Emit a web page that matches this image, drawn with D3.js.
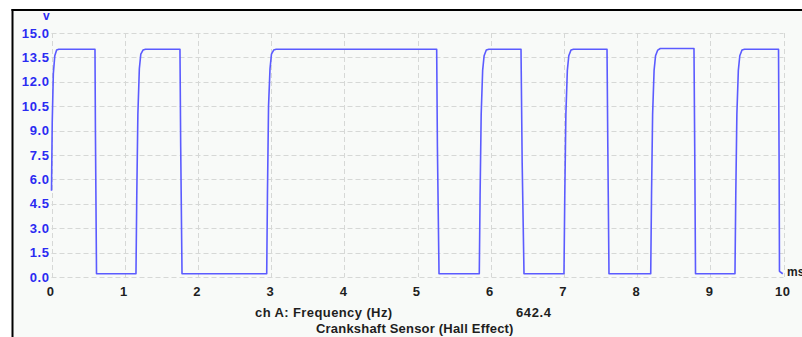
<!DOCTYPE html>
<html>
<head>
<meta charset="utf-8">
<script src="https://cdn.jsdelivr.net/npm/d3@7"></script>
<style>
  html, body { margin: 0; padding: 0; background: #ffffff; }
  svg { display: block; }
  text { font-family: "Liberation Sans", Arial, sans-serif; font-weight: bold; }
</style>
</head>
<body>
<svg id="chart" width="802" height="337"></svg>
<script>
// ---- data ----
const timeMs = [
  0.000, 0.010, 0.025, 0.045, 0.070, 0.100, 0.594, 0.600, 0.615,
  1.154, 1.165, 1.180, 1.200, 1.220, 1.250, 1.285, 1.755, 1.765, 1.783,
  2.940, 2.950, 2.965, 2.985, 3.005, 3.035, 3.070, 5.262, 5.272, 5.294,
  5.844, 5.855, 5.870, 5.890, 5.910, 5.940, 5.975, 6.414, 6.430, 6.455,
  7.001, 7.012, 7.027, 7.047, 7.067, 7.097, 7.132, 7.589, 7.600, 7.616,
  8.186, 8.197, 8.212, 8.232, 8.252, 8.282, 8.317, 8.777, 8.787, 8.798,
  9.337, 9.348, 9.363, 9.383, 9.403, 9.433, 9.468, 9.932, 9.940, 9.945, 9.990
];
const volts = [
  5.3, 9.5, 12.5, 13.6, 13.95, 14.0, 14.0, 9.0, 0.2,
  0.2, 5.0, 10.0, 12.8, 13.7, 13.95, 14.0, 14.0, 8.0, 0.2,
  0.2, 5.0, 10.5, 12.8, 13.7, 13.95, 14.0, 14.0, 8.0, 0.2,
  0.2, 5.0, 10.0, 12.7, 13.6, 13.95, 14.0, 14.0, 7.0, 0.2,
  0.2, 5.0, 10.0, 12.7, 13.6, 13.95, 14.0, 14.0, 8.0, 0.2,
  0.2, 5.0, 10.0, 12.7, 13.6, 13.95, 14.05, 14.05, 8.0, 0.2,
  0.2, 5.0, 10.0, 12.7, 13.6, 13.95, 14.0, 14.0, 7.0, 0.35, 0.2
];
const xTicks = [0, 1, 2, 3, 4, 5, 6, 7, 8, 9, 10];
const yTicks = [0, 1.5, 3.0, 4.5, 6.0, 7.5, 9.0, 10.5, 12.0, 13.5, 15.0];
const yUnit = "v";
const xUnit = "ms";
const channelLabel = "ch A: Frequency (Hz)";
const channelValue = "642.4";
const title = "Crankshaft Sensor (Hall Effect)";

// ---- drawing ----
const svg = d3.select("#chart");

// frame (panel background with black top/left edges)
svg.append("rect").attr("x", 12.5).attr("y", 10).attr("width", 802).attr("height", 340)
  .attr("fill", "#f8faf8");
svg.append("line").attr("x1", 12.5).attr("x2", 12.5).attr("y1", 9).attr("y2", 337)
  .attr("stroke", "#000").attr("stroke-width", 2);
svg.append("line").attr("x1", 11.5).attr("x2", 802).attr("y1", 10).attr("y2", 10)
  .attr("stroke", "#000").attr("stroke-width", 2);

const x = d3.scaleLinear().domain([0, 10]).range([51.5, 783.5]);
const y = d3.scaleLinear().domain([0, 15]).range([277, 33]);

// grid
const grid = svg.append("g").attr("stroke", "#d6d8d6").attr("stroke-width", 1)
  .attr("stroke-dasharray", "5,3");
grid.selectAll(".gx").data(xTicks).join("line")
  .attr("x1", d => Math.round(x(d)) + 0.5).attr("x2", d => Math.round(x(d)) + 0.5)
  .attr("y1", y(15)).attr("y2", y(0));
grid.selectAll(".gy").data(yTicks).join("line")
  .attr("y1", d => Math.round(y(d)) + 0.5).attr("y2", d => Math.round(y(d)) + 0.5)
  .attr("x1", x(0)).attr("x2", x(10));

// y axis
const yAxis = svg.append("g").attr("transform", `translate(${x(0)},0)`)
  .call(d3.axisLeft(y).tickValues(yTicks).tickSize(0).tickPadding(2).tickFormat(d3.format(".1f")));
yAxis.select(".domain").remove();
yAxis.selectAll("text").attr("fill", "#2b2bf2").style("font-size", "13px")
  .style("letter-spacing", "0.6px").style("font-family", "'Liberation Sans', Arial, sans-serif");

// x axis
const xAxis = svg.append("g").attr("transform", `translate(0,${y(0)})`)
  .call(d3.axisBottom(x).tickValues(xTicks).tickSize(0).tickPadding(10).tickFormat(d3.format("d")));
xAxis.select(".domain").remove();
xAxis.selectAll("text").attr("fill", "#1e1e1e").style("font-size", "13px")
  .style("letter-spacing", "0.5px").style("font-family", "'Liberation Sans', Arial, sans-serif")
  .attr("dx", "-0.1em");

// unit labels
svg.append("text").attr("x", 43).attr("y", 20).attr("fill", "#2b2bf2")
  .style("font-size", "12px").text(yUnit);
svg.append("text").attr("x", 787).attr("y", 276).attr("fill", "#1e1e1e")
  .style("font-size", "12px").text(xUnit);

// signal
const pts = timeMs.map((t, i) => [t, volts[i]]);
svg.append("path").datum(pts)
  .attr("fill", "none").attr("stroke", "#5b5bff").attr("stroke-width", 1.6)
  .attr("stroke-linejoin", "round")
  .attr("d", d3.line().x(d => x(d[0])).y(d => y(d[1])));

// bottom texts
svg.append("text").attr("x", 255).attr("y", 317).attr("fill", "#1e1e1e")
  .style("font-size", "13px").style("letter-spacing", "0.4px").text(channelLabel);
svg.append("text").attr("x", 516).attr("y", 317).attr("fill", "#1e1e1e")
  .style("font-size", "13px").style("letter-spacing", "0.6px").text(channelValue);
svg.append("text").attr("x", 316).attr("y", 333).attr("fill", "#1e1e1e")
  .style("font-size", "13px").style("letter-spacing", "0.2px").text(title);
</script>
</body>
</html>
